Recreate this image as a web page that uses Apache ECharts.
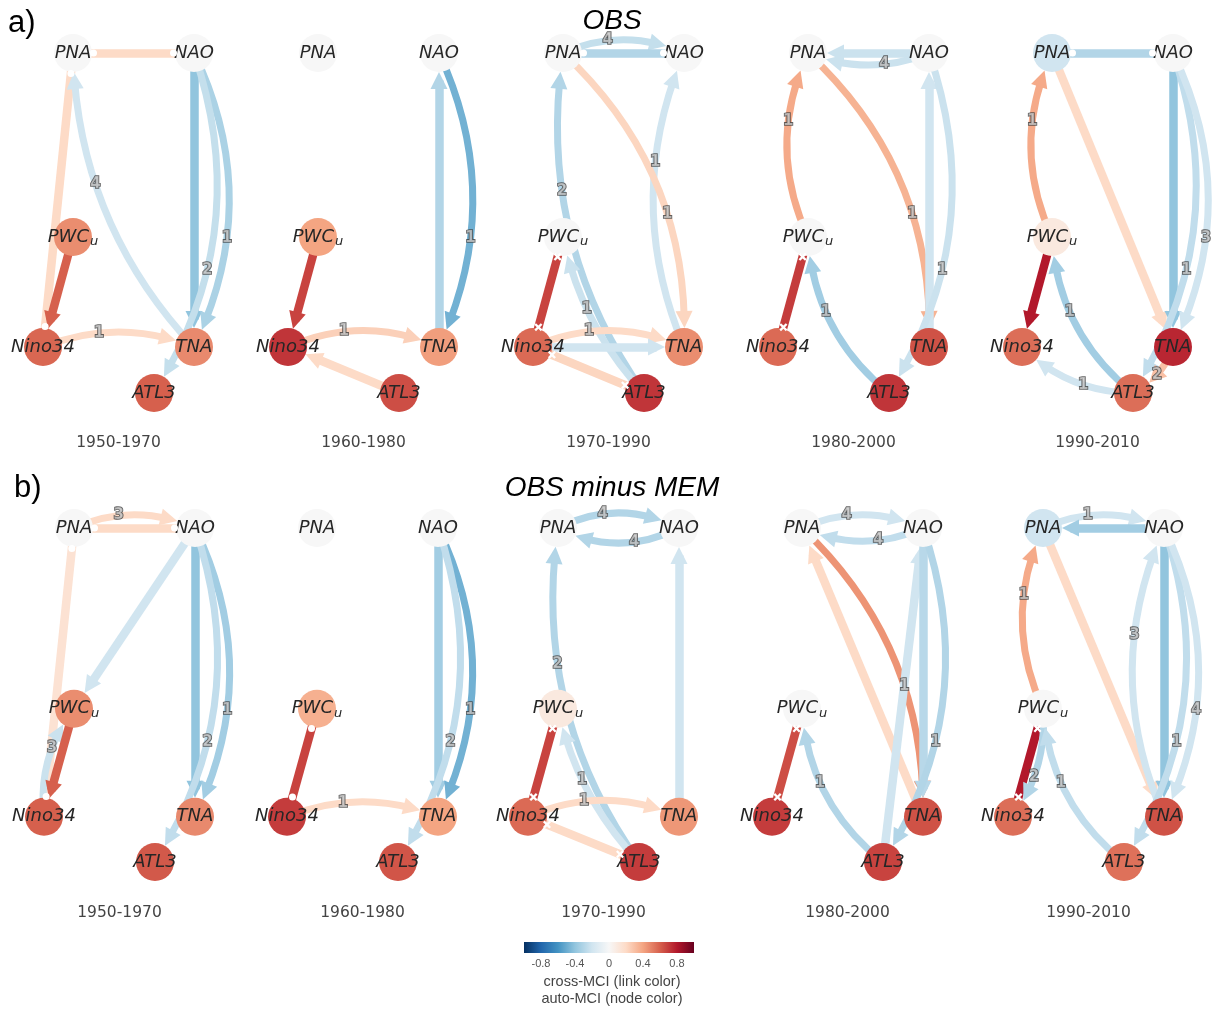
<!DOCTYPE html>
<html>
<head>
<meta charset="utf-8">
<script src="https://cdn.jsdelivr.net/npm/echarts@6/dist/echarts.min.js"></script>
<style>
  html, body { margin: 0; padding: 0; background: #ffffff; }
  #chart { width: 1216px; height: 1014px; }
</style>
</head>
<body>
<div id="chart"></div>
<script>
// ---------------------------------------------------------------------------
// Data: causal networks (PCMCI) for five 20-year windows
// ---------------------------------------------------------------------------
const periods = ['1950-1970', '1960-1980', '1970-1990', '1980-2000', '1990-2010'];
const variables = ['PNA', 'NAO', 'PWCu', 'Nino34', 'TNA', 'ATL3'];

// auto-MCI per window (node colour), ordered as `variables`
const obsAutoMCI = [
  [0.0, 0.0, 0.47, 0.58, 0.48, 0.60],
  [0.0, 0.0, 0.40, 0.72, 0.42, 0.65],
  [0.0, 0.0, 0.00, 0.57, 0.47, 0.72],
  [0.0, 0.0, 0.00, 0.57, 0.64, 0.72],
  [-0.2, 0.0, 0.10, 0.56, 0.76, 0.56]
];
const diffAutoMCI = [
  [0.0, 0.0, 0.47, 0.60, 0.48, 0.62],
  [0.0, 0.0, 0.36, 0.70, 0.40, 0.63],
  [0.0, 0.0, 0.10, 0.57, 0.44, 0.70],
  [0.0, 0.0, 0.00, 0.70, 0.64, 0.68],
  [-0.2, 0.0, 0.00, 0.56, 0.64, 0.55]
];

// links: [source, target, cross-MCI, lag (null = contemporaneous), kind]
// kind: 'dir' directed, 'oo' undirected contemporaneous, 'xx' conflicting
const obsLinks = [
  [ ['PNA','NAO',0.2,null,'oo'], ['PNA','Nino34',0.2,null,'oo'], ['PWCu','Nino34',0.6,null,'dir'],
    ['TNA','PNA',-0.2,4,'dir'], ['NAO','TNA',-0.4,null,'dir'], ['NAO','TNA',-0.32,1,'dir'],
    ['NAO','ATL3',-0.24,2,'dir'], ['Nino34','TNA',0.2,1,'dir'] ],
  [ ['TNA','NAO',-0.3,null,'dir'], ['NAO','TNA',-0.48,1,'dir'], ['PWCu','Nino34',0.68,null,'dir'],
    ['Nino34','TNA',0.24,1,'dir'], ['ATL3','Nino34',0.2,null,'dir'] ],
  [ ['PNA','NAO',-0.24,4,'dir'], ['PNA','NAO',-0.3,null,'oo'], ['ATL3','PNA',-0.3,2,'dir'],
    ['TNA','NAO',-0.2,1,'dir'], ['PNA','TNA',0.22,1,'dir'], ['PWCu','Nino34',0.68,null,'xx'],
    ['ATL3','PWCu',-0.22,1,'dir'], ['Nino34','TNA',0.2,1,'dir'], ['Nino34','TNA',-0.2,null,'dir'],
    ['Nino34','ATL3',0.22,null,'xx'] ],
  [ ['NAO','PNA',-0.22,null,'dir'], ['NAO','PNA',-0.22,4,'dir'], ['PWCu','PNA',0.38,1,'dir'],
    ['PNA','TNA',0.35,1,'dir'], ['TNA','NAO',-0.2,null,'dir'], ['NAO','ATL3',-0.22,1,'dir'],
    ['ATL3','PWCu',-0.35,1,'dir'], ['PWCu','Nino34',0.7,null,'xx'] ],
  [ ['PNA','NAO',-0.3,null,'oo'], ['PWCu','PNA',0.38,1,'dir'], ['PNA','TNA',0.2,null,'dir'],
    ['NAO','TNA',-0.4,null,'dir'], ['NAO','ATL3',-0.25,1,'dir'], ['NAO','TNA',-0.2,3,'dir'],
    ['PWCu','Nino34',0.8,null,'dir'], ['ATL3','PWCu',-0.35,1,'dir'], ['ATL3','Nino34',-0.2,1,'dir'],
    ['TNA','ATL3',0.3,2,'dir'] ]
];
const diffLinks = [
  [ ['PNA','NAO',0.2,3,'dir'], ['PNA','NAO',0.2,null,'oo'], ['PNA','Nino34',0.15,null,'oo'],
    ['NAO','PWCu',-0.2,null,'dir'], ['NAO','TNA',-0.4,null,'dir'], ['NAO','TNA',-0.35,1,'dir'],
    ['NAO','ATL3',-0.25,2,'dir'], ['Nino34','PWCu',-0.22,3,'dir'], ['PWCu','Nino34',0.6,null,'dir'] ],
  [ ['NAO','TNA',-0.35,null,'dir'], ['NAO','TNA',-0.48,1,'dir'], ['NAO','ATL3',-0.25,2,'dir'],
    ['PWCu','Nino34',0.68,null,'oo'], ['Nino34','TNA',0.2,1,'dir'] ],
  [ ['PNA','NAO',-0.3,4,'dir'], ['NAO','PNA',-0.3,4,'dir'], ['ATL3','PNA',-0.3,2,'dir'],
    ['TNA','NAO',-0.2,null,'dir'], ['PWCu','Nino34',0.68,null,'xx'], ['ATL3','PWCu',-0.2,1,'dir'],
    ['Nino34','TNA',0.2,1,'dir'], ['Nino34','ATL3',0.2,null,'xx'] ],
  [ ['PNA','NAO',-0.2,4,'dir'], ['NAO','PNA',-0.25,4,'dir'], ['PNA','TNA',0.45,1,'dir'],
    ['TNA','PNA',0.2,null,'dir'], ['ATL3','NAO',-0.2,null,'dir'], ['NAO','TNA',-0.28,null,'dir'],
    ['NAO','ATL3',-0.3,1,'dir'], ['ATL3','PWCu',-0.3,1,'dir'], ['PWCu','Nino34',0.65,null,'xx'] ],
  [ ['PNA','NAO',-0.2,1,'dir'], ['NAO','PNA',-0.35,null,'dir'], ['PWCu','PNA',0.38,1,'dir'],
    ['PNA','TNA',0.2,null,'dir'], ['TNA','NAO',-0.2,3,'dir'], ['NAO','TNA',-0.4,null,'dir'],
    ['NAO','ATL3',-0.25,1,'dir'], ['NAO','TNA',-0.2,4,'dir'], ['PWCu','Nino34',0.8,null,'xx'],
    ['PWCu','Nino34',-0.3,2,'dir'], ['ATL3','PWCu',-0.25,1,'dir'] ]
];

// colour-bar tick labels
const colorbarTicks = [-0.8, -0.4, 0, 0.4, 0.8];

// ---------------------------------------------------------------------------
// Drawing style
// ---------------------------------------------------------------------------
// bend of each link (same order as the link lists)
const obsCurves = [
  [0, 0, 0, 0.19, 0, 0.24, 0.24, 0.2],
  [0, 0.23, 0, 0.22, 0],
  [0.22, 0, 0.2, 0.21, 0.23, 0, 0.14, 0.22, 0, 0],
  [0, 0.2, 0.23, 0.23, 0, 0.24, 0.22, 0],
  [0, 0.23, 0, 0, 0.24, 0.24, 0, 0.22, 0.2, 0.2]
];
const diffCurves = [
  [0.22, 0, 0, 0, 0, 0.24, 0.24, 0.2, 0],
  [0, 0.24, 0.24, 0, 0.2],
  [0.25, 0.25, 0.2, 0, 0, 0.14, 0.22, 0],
  [0.22, 0.22, 0.22, 0, 0, 0, 0.24, 0.22, 0],
  [0.22, 0, 0.23, 0, 0.22, 0, 0.24, 0.24, 0, 0.18, 0.22]
];

// node placement inside a panel (layout units ~ pixels)
const nodeLayout = {
  PNA: [0, 0], NAO: [121, 0], PWCu: [0, 184],
  Nino34: [-30, 294], TNA: [121, 294], ATL3: [81, 340]
};
const LAYOUT_X = [-30, 121], LAYOUT_Y = [0, 340];
const NODE = 38, ARROW = 17;

const RDBU = ['#053061','#2166ac','#4393c3','#92c5de','#d1e5f0','#f7f7f7',
              '#fddbc7','#f4a582','#d6604d','#b2182b','#67001f'];
function hex2rgb(h) { return [1, 3, 5].map(i => parseInt(h.substr(i, 2), 16)); }
function cmap(v) {
  const t = Math.max(0, Math.min(1, (v + 1) / 2)) * 10;
  const i = Math.min(9, Math.floor(t)), f = t - i;
  const a = hex2rgb(RDBU[i]), b = hex2rgb(RDBU[i + 1]);
  const c = a.map((x, k) => Math.round(x + (b[k] - x) * f));
  return 'rgb(' + c.join(',') + ')';
}

const rows = [
  { heading: 'OBS', tag: 'a)', auto: obsAutoMCI, links: obsLinks, curves: obsCurves,
    origins: [[73, 53], [318, 53], [563, 53], [808, 53], [1052, 53]], height: 340,
    periodY: 443, headingY: 21, tagPos: [8, 23] },
  { heading: 'OBS minus MEM', tag: 'b)', auto: diffAutoMCI, links: diffLinks, curves: diffCurves,
    origins: [[74, 528], [317, 528], [558, 528], [802, 528], [1043, 528]], height: 334,
    periodY: 913, headingY: 488, tagPos: [14, 488] }
];

const FONT = 'DejaVu Sans';
const SUB_FONT = 'Liberation Sans, Arial, sans-serif';

const grids = [], xAxes = [], yAxes = [], series = [], graphics = [];

function bezierPoint(p1, p2, c, t) {
  const u = 1 - t;
  if (!c) return [u * p1[0] + t * p2[0], u * p1[1] + t * p2[1]];
  const cp = [(p1[0] + p2[0]) / 2 - (p1[1] - p2[1]) * c,
              (p1[1] + p2[1]) / 2 - (p2[0] - p1[0]) * c];
  return [u * u * p1[0] + 2 * u * t * cp[0] + t * t * p2[0],
          u * u * p1[1] + 2 * u * t * cp[1] + t * t * p2[1]];
}

const crossPath = 'path://M2,0L5,3L8,0L10,2L7,5L10,8L8,10L5,7L2,10L0,8L3,5L0,2Z';

rows.forEach(function (row) {
  row.origins.forEach(function (origin, p) {
    const k = grids.length;
    const sy = row.height / (LAYOUT_Y[1] - LAYOUT_Y[0]);
    const toPx = q => [origin[0] + q[0], origin[1] + q[1] * sy];
    const fromPx = q => [q[0] - origin[0], (q[1] - origin[1]) / sy];

    grids.push({ left: origin[0] + LAYOUT_X[0], top: origin[1],
                 width: LAYOUT_X[1] - LAYOUT_X[0], height: row.height });
    xAxes.push({ gridIndex: k, type: 'value', min: LAYOUT_X[0], max: LAYOUT_X[1], show: false });
    yAxes.push({ gridIndex: k, type: 'value', min: LAYOUT_Y[0], max: LAYOUT_Y[1], inverse: true, show: false });

    const links = row.links[p], curves = row.curves[p], auto = row.auto[p];

    // links (arrows end on the node rim: invisible hit circles are NODE + ARROW wide)
    series.push({
      type: 'graph', coordinateSystem: 'cartesian2d', xAxisIndex: k, yAxisIndex: k,
      layout: 'none', silent: true, z: 2,
      symbol: 'circle', symbolSize: NODE + ARROW,
      itemStyle: { opacity: 0 }, label: { show: false }, edgeLabel: { show: false },
      edgeSymbol: ['none', 'triangle'], edgeSymbolSize: [1, ARROW],
      lineStyle: { opacity: 1 },
      emphasis: { disabled: true },
      data: variables.map(v => ({ name: v, value: nodeLayout[v] })),
      links: links.map((l, i) => ({
        source: l[0], target: l[1],
        symbol: l[4] === 'dir' ? ['none', 'triangle'] : ['none', 'none'],
        lineStyle: {
          color: cmap(l[2]), opacity: 1, curveness: curves[i],
          width: l[3] === null ? 8.5 : 7
        }
      }))
    });

    // nodes
    series.push({
      type: 'scatter', xAxisIndex: k, yAxisIndex: k, silent: true, z: 4, clip: false,
      symbol: 'circle', symbolSize: NODE,
      data: variables.map((v, j) => ({ name: v, value: nodeLayout[v], itemStyle: { color: cmap(auto[j]), opacity: 1 } })),
      label: {
        show: true, position: 'inside',
        formatter: pr => pr.name === 'PWCu' ? '{n|PWC}{s|u}' : '{n|' + pr.name + '}',
        rich: {
          n: { fontFamily: FONT, fontStyle: 'italic', fontSize: 18, lineHeight: 18, color: '#262626' },
          s: { fontFamily: FONT, fontStyle: 'italic', fontSize: 13, lineHeight: 13, color: '#262626', padding: [10, 0, 0, 1] }
        }
      }
    });

    // end marks of undirected / conflicting links
    const marks = [];
    links.forEach(function (l) {
      if (l[4] === 'dir') return;
      const a = toPx(nodeLayout[l[0]]), b = toPx(nodeLayout[l[1]]);
      const d = Math.hypot(b[0] - a[0], b[1] - a[1]);
      const ux = (b[0] - a[0]) / d, uy = (b[1] - a[1]) / d;
      const r = NODE / 2 + 1.5;
      const sym = l[4] === 'oo' ? 'circle' : crossPath;
      const size = l[4] === 'oo' ? 7 : 8;
      marks.push({ value: fromPx([a[0] + ux * r, a[1] + uy * r]), symbol: sym, symbolSize: size });
      marks.push({ value: fromPx([b[0] - ux * r, b[1] - uy * r]), symbol: sym, symbolSize: size });
    });
    series.push({
      type: 'scatter', xAxisIndex: k, yAxisIndex: k, silent: true, z: 5, clip: false,
      itemStyle: { color: '#ffffff', opacity: 1 }, data: marks
    });

    // lag labels
    const lagLabels = [];
    links.forEach(function (l, i) {
      if (l[3] === null) return;
      const a = toPx(nodeLayout[l[0]]), b = toPx(nodeLayout[l[1]]);
      const dx = b[0] - a[0], dy = b[1] - a[1];
      const t = 0.5 + 0.13 * (dy * dy - dx * dx) / (dx * dx + dy * dy);
      lagLabels.push({ name: String(l[3]), value: fromPx(bezierPoint(a, b, curves[i], t)) });
    });
    series.push({
      type: 'scatter', xAxisIndex: k, yAxisIndex: k, silent: true, z: 6, clip: false,
      symbolSize: 1, itemStyle: { color: 'rgba(0,0,0,0)' },
      data: lagLabels,
      label: {
        show: true, position: 'inside', formatter: '{b}',
        fontFamily: FONT, fontWeight: 'bold', fontSize: 15, color: '#c4c4c4',
        textBorderColor: '#3c3c3c', textBorderWidth: 1.6
      }
    });

    // window label
    graphics.push({
      type: 'text', x: origin[0] + (LAYOUT_X[0] + LAYOUT_X[1]) / 2, y: row.periodY,
      style: { text: periods[p], font: '15.5px "DejaVu Sans"', fill: '#444444', align: 'center', verticalAlign: 'middle' }
    });
  });

  graphics.push({
    type: 'text', x: 612, y: row.headingY,
    style: { text: row.heading, font: 'italic 28px "Liberation Sans", Arial, sans-serif', fill: '#000000', align: 'center', verticalAlign: 'middle' }
  });
  graphics.push({
    type: 'text', x: row.tagPos[0], y: row.tagPos[1],
    style: { text: row.tag, font: '31px "Liberation Sans", Arial, sans-serif', fill: '#000000', align: 'left', verticalAlign: 'middle' }
  });
});

// colour bar
const cb = grids.length;
grids.push({ left: 524, top: 942, width: 170, height: 11 });
xAxes.push({
  gridIndex: cb, type: 'value', min: -1, max: 1,
  axisLine: { show: false }, axisTick: { show: false }, splitLine: { show: false },
  axisLabel: { customValues: colorbarTicks, fontFamily: SUB_FONT, fontSize: 11, color: '#555555', margin: 5 }
});
yAxes.push({ gridIndex: cb, type: 'value', min: 0, max: 1, show: false });
series.push({
  type: 'custom', xAxisIndex: cb, yAxisIndex: cb, silent: true,
  data: [[-1, 1]],
  renderItem: function (params, api) {
    const p0 = api.coord([api.value(0), 0]);
    const p1 = api.coord([api.value(1), 1]);
    return {
      type: 'rect',
      shape: { x: p0[0], y: p1[1], width: p1[0] - p0[0], height: p0[1] - p1[1] },
      style: { fill: new echarts.graphic.LinearGradient(0, 0, 1, 0,
        RDBU.map((c, i) => ({ offset: i / (RDBU.length - 1), color: c }))) }
    };
  }
});
graphics.push({
  type: 'text', x: 612, y: 982,
  style: { text: 'cross-MCI (link color)', font: '14.5px "Liberation Sans", Arial, sans-serif', fill: '#444444', align: 'center', verticalAlign: 'middle' }
});
graphics.push({
  type: 'text', x: 612, y: 999,
  style: { text: 'auto-MCI (node color)', font: '14.5px "Liberation Sans", Arial, sans-serif', fill: '#444444', align: 'center', verticalAlign: 'middle' }
});

const chart = echarts.init(document.getElementById('chart'), null, { renderer: 'canvas' });
chart.setOption({
  backgroundColor: '#ffffff',
  animation: false,
  grid: grids, xAxis: xAxes, yAxis: yAxes,
  series: series,
  graphic: graphics
});
</script>
</body>
</html>
